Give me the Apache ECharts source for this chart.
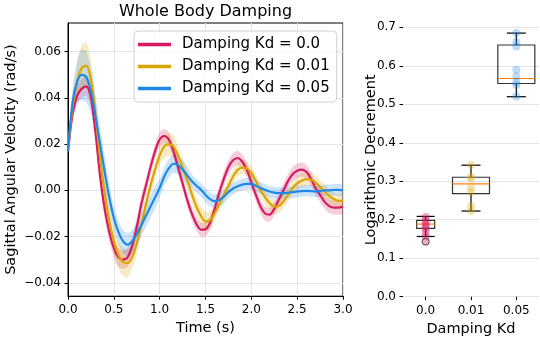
<!DOCTYPE html>
<html>
<head>
<meta charset="utf-8">
<script src="https://cdn.jsdelivr.net/npm/echarts@6/dist/echarts.min.js"></script>
<style>
html, body { margin: 0; padding: 0; background: #fff; }
#chart { width: 540px; height: 338px; }
</style>
</head>
<body>
<div id="chart"></div>
<script>
// time axis (s), one sample every 0.05 s
var timeS = [0, 0.05, 0.1, 0.15, 0.2, 0.25, 0.3, 0.35, 0.4, 0.45, 0.5, 0.55, 0.6, 0.65, 0.7, 0.75, 0.8, 0.85, 0.9, 0.95,
  1, 1.05, 1.1, 1.15, 1.2, 1.25, 1.3, 1.35, 1.4, 1.45, 1.5, 1.55, 1.6, 1.65, 1.7, 1.75, 1.8, 1.85, 1.9, 1.95,
  2, 2.05, 2.1, 2.15, 2.2, 2.25, 2.3, 2.35, 2.4, 2.45, 2.5, 2.55, 2.6, 2.65, 2.7, 2.75, 2.8, 2.85, 2.9, 2.95, 3];

// mean sagittal angular velocity (rad/s)
var velKd0 = [0.017, 0.033, 0.041, 0.044, 0.045, 0.040, 0.025, 0.006, -0.008, -0.018, -0.025, -0.029, -0.030, -0.029, -0.024, -0.016, -0.006, 0.002, 0.010, 0.017,
  0.022, 0.0235, 0.022, 0.017, 0.010, 0.003, -0.004, -0.010, -0.0145, -0.017, -0.0168, -0.014, -0.008, -0.001, 0.005, 0.010, 0.013, 0.014, 0.0125, 0.009,
  0.0035, -0.002, -0.007, -0.010, -0.0105, -0.008, -0.004, 0.000, 0.004, 0.007, 0.0085, 0.009, 0.008, 0.005, 0.001, -0.002, -0.005, -0.0068, -0.0075, -0.0075, -0.007];
var velKd001 = [0.017, 0.036, 0.047, 0.053, 0.054, 0.048, 0.033, 0.014, -0.001, -0.013, -0.022, -0.028, -0.031, -0.0315, -0.029, -0.023, -0.015, -0.006, 0.002, 0.009,
  0.015, 0.019, 0.020, 0.019, 0.015, 0.010, 0.0045, -0.0015, -0.007, -0.011, -0.0134, -0.013, -0.010, -0.006, -0.002, 0.002, 0.006, 0.0088, 0.0098, 0.0095,
  0.0075, 0.004, 0.000, -0.003, -0.0055, -0.007, -0.0068, -0.0048, -0.002, 0.001, 0.003, 0.0042, 0.0048, 0.0047, 0.0035, 0.0015, -0.0005, -0.0025, -0.0038, -0.0045, -0.0045];
var velKd005 = [0.017, 0.038, 0.047, 0.050, 0.049, 0.043, 0.032, 0.020, 0.008, -0.003, -0.012, -0.018, -0.022, -0.0235, -0.022, -0.019, -0.015, -0.011, -0.007, -0.003,
  0.001, 0.006, 0.0095, 0.0115, 0.011, 0.009, 0.0065, 0.004, 0.002, 0.0003, -0.002, -0.0038, -0.0047, -0.0042, -0.0027, -0.0008, 0.0008, 0.0018, 0.0025, 0.0028,
  0.0028, 0.002, 0.001, 0.0002, -0.0005, -0.001, -0.0012, -0.0012, -0.001, -0.0008, -0.0005, -0.0003, -0.0002, -0.0003, -0.0005, -0.0003, 0.000, 0.000, 0.0002, 0.0002, 0.000];

// half width of the shaded band
var sdKd0 = [0.001, 0.003, 0.004, 0.004, 0.004, 0.004, 0.004, 0.004, 0.004, 0.004, 0.004, 0.004, 0.004, 0.004, 0.004, 0.004, 0.004, 0.003, 0.003, 0.003,
  0.003, 0.003, 0.003, 0.003, 0.003, 0.003, 0.003, 0.003, 0.003, 0.003, 0.003, 0.003, 0.003, 0.003, 0.003, 0.003, 0.003, 0.003, 0.003, 0.003,
  0.003, 0.003, 0.003, 0.003, 0.003, 0.003, 0.003, 0.003, 0.003, 0.003, 0.003, 0.003, 0.003, 0.003, 0.003, 0.003, 0.003, 0.003, 0.003, 0.003, 0.003];
var sdKd001 = [0.001, 0.005, 0.008, 0.010, 0.010, 0.009, 0.007, 0.006, 0.005, 0.005, 0.005, 0.006, 0.006, 0.006, 0.005, 0.005, 0.004, 0.004, 0.004, 0.004,
  0.004, 0.005, 0.005, 0.005, 0.004, 0.004, 0.004, 0.004, 0.004, 0.004, 0.004, 0.004, 0.003, 0.003, 0.003, 0.003, 0.003, 0.003, 0.003, 0.003,
  0.003, 0.003, 0.003, 0.003, 0.003, 0.003, 0.003, 0.003, 0.003, 0.003, 0.003, 0.003, 0.003, 0.003, 0.003, 0.003, 0.003, 0.003, 0.003, 0.003, 0.003];
var sdKd005 = [0.001, 0.006, 0.009, 0.011, 0.011, 0.010, 0.009, 0.008, 0.007, 0.006, 0.005, 0.005, 0.005, 0.005, 0.005, 0.005, 0.005, 0.005, 0.005, 0.005,
  0.004, 0.004, 0.004, 0.004, 0.004, 0.004, 0.004, 0.003, 0.003, 0.003, 0.003, 0.003, 0.003, 0.003, 0.003, 0.003, 0.0025, 0.0025, 0.0025, 0.0025,
  0.0025, 0.0025, 0.0025, 0.0025, 0.0025, 0.0025, 0.0025, 0.0025, 0.0025, 0.0025, 0.0025, 0.0025, 0.0025, 0.0025, 0.0025, 0.0025, 0.0025, 0.0025, 0.0025, 0.0025, 0.0025];

var lineNames = ['Damping Kd = 0.0', 'Damping Kd = 0.01', 'Damping Kd = 0.05'];
var timeTicks = [0, 0.5, 1, 1.5, 2, 2.5, 3];
var velTicks = [-0.04, -0.02, 0, 0.02, 0.04, 0.06];

// logarithmic decrement per damping value
var kdLabels = ['0.0', '0.01', '0.05'];
var decTicks = [0, 0.1, 0.2, 0.3, 0.4, 0.5, 0.6, 0.7];
// low whisker, q1, median, q3, high whisker
var boxStats = [
  [0.1565, 0.1774, 0.1887, 0.1983, 0.2087],
  [0.2226, 0.2678, 0.2930, 0.3104, 0.3417],
  [0.5196, 0.5540, 0.5670, 0.6540, 0.6850]
];
var decKd0 = [0.208, 0.200, 0.193, 0.187, 0.182, 0.176, 0.166, 0.157, 0.143];
var decKd001 = [0.342, 0.311, 0.307, 0.283, 0.272, 0.236, 0.223];
var decKd005 = [0.685, 0.662, 0.650, 0.590, 0.572, 0.557, 0.550, 0.520];
var decFliers = [[0, 0.1435]];

var colors = ['#d81b60', '#daa500', '#1e88e5'];
var boxWidths = [18, 37, 37];
var capWidths = [18, 19, 19];

var myChart = echarts.init(document.getElementById('chart'));

function pairs(xs, ys) {
  return xs.map(function (x, i) { return [x, ys[i]]; });
}
function velLabel(v) {
  var s = Math.abs(v).toFixed(2);
  return v < -1e-9 ? '\u2212' + s : s;
}

// shaded band drawn as one polygon from [t, low, high] rows
function bandRenderer(color) {
  return function (params, api) {
    if (params.dataIndexInside !== 0) return null;
    var n = params.dataInsideLength, top = [], bottom = [];
    for (var j = 0; j < n; j++) {
      var t = api.value(0, j);
      bottom.push(api.coord([t, api.value(1, j)]));
      top.push(api.coord([t, api.value(2, j)]));
    }
    return {
      type: 'polygon', silent: true,
      shape: { points: bottom.concat(top.reverse()), smooth: 0.3 },
      style: { fill: color, opacity: 0.22 }
    };
  };
}

var means = [velKd0, velKd001, velKd005];
var sds = [sdKd0, sdKd001, sdKd005];
var series = [];
means.forEach(function (m, k) {
  series.push({
    type: 'custom', name: 'band' + k, clip: true,
    data: timeS.map(function (t, i) { return [t, m[i] - sds[k][i], m[i] + sds[k][i]]; }),
    encode: { x: 0, y: [1, 2] },
    renderItem: bandRenderer(colors[k])
  });
  series.push({
    type: 'line', name: lineNames[k], data: pairs(timeS, m), smooth: 0.3, symbol: 'none',
    itemStyle: { color: colors[k] }, lineStyle: { color: colors[k], width: 2.2 }
  });
});

series.push({
  type: 'custom', xAxisIndex: 1, yAxisIndex: 1, z: 3,
  data: boxStats.map(function (s, i) { return [i].concat(s); }),
  encode: { x: 0, y: [1, 2, 3, 4, 5] },
  renderItem: function (params, api) {
    var i = api.value(0);
    var lo = api.coord([i, api.value(1)]);
    var q1 = api.coord([i, api.value(2)]);
    var md = api.coord([i, api.value(3)]);
    var q3 = api.coord([i, api.value(4)]);
    var hi = api.coord([i, api.value(5)]);
    var x = lo[0], hw = boxWidths[i] / 2, cw = capWidths[i] / 2;
    var black = { stroke: '#000', lineWidth: 1.2 };
    return {
      type: 'group', children: [
        { type: 'line', shape: { x1: x, y1: lo[1], x2: x, y2: q1[1] }, style: black },
        { type: 'line', shape: { x1: x, y1: q3[1], x2: x, y2: hi[1] }, style: black },
        { type: 'line', shape: { x1: x - cw, y1: lo[1], x2: x + cw, y2: lo[1] }, style: black },
        { type: 'line', shape: { x1: x - cw, y1: hi[1], x2: x + cw, y2: hi[1] }, style: black },
        { type: 'rect', shape: { x: x - hw, y: q3[1], width: hw * 2, height: q1[1] - q3[1] },
          style: { fill: 'none', stroke: '#333', lineWidth: 1.2 } },
        { type: 'line', shape: { x1: x - hw, y1: md[1], x2: x + hw, y2: md[1] },
          style: { stroke: '#ff7f0e', lineWidth: 1.2 } }
      ]
    };
  }
});

[decKd0, decKd001, decKd005].forEach(function (pts, g) {
  series.push({
    type: 'scatter', xAxisIndex: 1, yAxisIndex: 1, z: 4,
    data: pts.map(function (v) { return [g, v]; }),
    symbolSize: 8,
    itemStyle: { color: colors[g], opacity: g === 0 ? 0.35 : 0.3 }
  });
});
series.push({
  type: 'scatter', xAxisIndex: 1, yAxisIndex: 1, z: 5,
  data: decFliers, symbolSize: 7,
  itemStyle: { color: 'rgba(0,0,0,0)', borderColor: '#333', borderWidth: 1 }
});

var axisFont = { fontSize: 12, color: '#000', fontFamily: 'DejaVu Sans' };
var nameFont = { fontSize: 14.5, color: '#000', fontFamily: 'DejaVu Sans' };
var gridLine = { show: true, lineStyle: { color: '#e4e4e4', width: 1 } };

var option = {
  animation: false,
  textStyle: { fontFamily: 'DejaVu Sans' },
  title: {
    text: 'Whole Body Damping', left: 205.5, top: 4, padding: 0, textAlign: 'center',
    textStyle: { fontSize: 16, fontWeight: 'normal', color: '#000', fontFamily: 'DejaVu Sans' }
  },
  legend: {
    data: lineNames, orient: 'vertical', left: 134, top: 31,
    padding: [6, 7, 6, 4], itemGap: 7, itemWidth: 33, itemHeight: 3.5, icon: 'rect',
    backgroundColor: 'rgba(255,255,255,0.8)', borderColor: '#d0d0d0', borderWidth: 1, borderRadius: 4,
    textStyle: { fontSize: 15, color: '#000', fontFamily: 'DejaVu Sans', padding: [0, 0, 0, 6] }
  },
  grid: [
    { left: 68, right: 197, top: 23, bottom: 41.8, outerBoundsMode: 'none',
      show: true, borderColor: '#000', borderWidth: 1 },
    { left: 403, width: 136, top: 23, bottom: 41.3, outerBoundsMode: 'none' }
  ],
  xAxis: [
    {
      type: 'value', gridIndex: 0, min: 0, max: 3, interval: 0.5,
      name: 'Time (s)', nameLocation: 'middle', nameGap: 25, nameMoveOverlap: false, nameTextStyle: nameFont,
      axisLine: { show: true, onZero: false, lineStyle: { color: '#000' } },
      axisTick: { show: true, length: 3.5, lineStyle: { color: '#000' } },
      axisLabel: Object.assign({ margin: 8, formatter: function (v) { return v.toFixed(1); } }, axisFont),
      splitLine: gridLine
    },
    {
      type: 'category', gridIndex: 1, data: kdLabels, boundaryGap: true,
      name: 'Damping Kd', nameLocation: 'middle', nameGap: 25, nameMoveOverlap: false, nameTextStyle: nameFont,
      axisLine: { show: false, onZero: false },
      axisTick: { show: true, alignWithLabel: true, length: 3.5, lineStyle: { color: '#000' } },
      axisLabel: Object.assign({ margin: 8 }, axisFont),
      splitLine: { show: false }
    }
  ],
  yAxis: [
    {
      type: 'value', gridIndex: 0, min: -0.0458, max: 0.0724,
      name: 'Sagittal Angular Velocity (rad/s)', nameLocation: 'middle', nameGap: 49, nameMoveOverlap: false,
      nameTextStyle: nameFont,
      axisLine: { show: true, onZero: false, lineStyle: { color: '#000' } },
      axisTick: { show: true, length: 3.5, customValues: velTicks, lineStyle: { color: '#000' } },
      axisLabel: Object.assign({ margin: 7, customValues: velTicks, formatter: velLabel }, axisFont),
      splitLine: gridLine
    },
    {
      type: 'value', gridIndex: 1, min: 0, max: 0.7112,
      name: 'Logarithmic Decrement', nameLocation: 'middle', nameGap: 24, nameMoveOverlap: false,
      nameTextStyle: nameFont,
      axisLine: { show: false },
      axisTick: { show: true, length: 3.5, customValues: decTicks, lineStyle: { color: '#000' } },
      axisLabel: Object.assign({ margin: 7, customValues: decTicks, formatter: function (v) { return v.toFixed(1); } }, axisFont),
      splitLine: gridLine
    }
  ],
  series: series
};

myChart.setOption(option);
</script>
</body>
</html>
